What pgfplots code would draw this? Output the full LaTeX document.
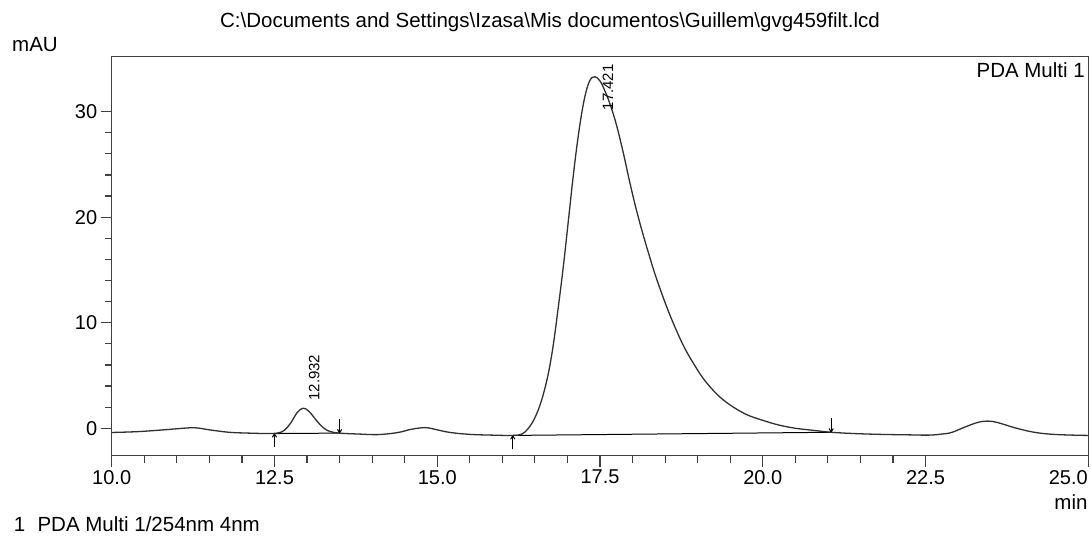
\documentclass[border=0pt]{standalone}
\usepackage{pgfplots}
\pgfplotsset{compat=1.18}
\usepackage{fontspec}
\setmainfont{Liberation Sans}
\usetikzlibrary{arrows.meta}
\definecolor{axisgray}{HTML}{404040}
\definecolor{curvegray}{HTML}{303030}

% chromatogram trace (min, mAU)
\pgfplotstableread{
t y
10.0 -0.40
10.4 -0.32
10.8 -0.15
11.0 -0.05
11.27 0.05
11.5 -0.15
11.8 -0.38
12.1 -0.46
12.4 -0.50
12.55 -0.45
12.65 -0.20
12.75 0.50
12.85 1.50
12.94 1.90
13.03 1.60
13.15 0.70
13.25 0.05
13.35 -0.30
13.5 -0.46
13.8 -0.55
14.1 -0.60
14.4 -0.40
14.6 -0.10
14.82 0.06
15.0 -0.15
15.2 -0.40
15.5 -0.58
15.9 -0.66
16.16 -0.68
16.3 -0.55
16.4 0.00
16.5 1.00
16.6 2.60
16.7 5.00
16.78 7.80
16.86 11.5
16.94 15.5
17.02 20.0
17.1 24.5
17.18 28.3
17.26 31.2
17.34 32.9
17.42 33.3
17.5 32.9
17.58 31.9
17.66 30.6
17.75 28.8
17.85 26.3
17.95 23.5
18.05 20.9
18.15 18.6
18.25 16.5
18.35 14.5
18.5 11.9
18.65 9.6
18.8 7.6
18.95 6.0
19.1 4.6
19.3 3.2
19.5 2.2
19.75 1.3
20.0 0.75
20.25 0.30
20.5 0.00
20.75 -0.18
21.05 -0.38
21.4 -0.50
21.8 -0.58
22.2 -0.62
22.55 -0.65
22.75 -0.55
22.9 -0.40
23.1 0.10
23.3 0.55
23.45 0.68
23.6 0.55
23.87 0.05
24.14 -0.35
24.4 -0.55
24.7 -0.64
25.0 -0.68
}\trace

\begin{document}
\begin{tikzpicture}[x=1pt,y=1pt]
\path[use as bounding box] (-111.7,-80.3) rectangle (980.3,455.7);
\begin{axis}[
  at={(0,0)}, anchor=south west,
  scale only axis, width=976.6pt, height=399pt,
  xmin=10, xmax=25, ymin=-2.6, ymax=35.2,
  xtick={10,12.5,...,22.5}, minor x tick num=4,
  extra x ticks={25},
  extra x tick style={x tick label style={anchor=north east, xshift=3pt}},
  ytick={0,10,20,30}, minor y tick num=4,
  tick pos=left, tick align=outside,
  major tick length=11pt, minor tick length=7pt,
  axis line style={axisgray, line width=1.2pt},
  tick style={axisgray, line width=1.2pt},
  /pgf/number format/assume math mode=true,
  tick label style={font=\fontsize{20}{22}\selectfont},
  x tick label style={/pgf/number format/fixed, /pgf/number format/fixed zerofill, /pgf/number format/precision=1},
  clip=false,
]
\addplot[black, line width=1pt] coordinates {(12.5,-0.50) (13.5,-0.46)};
\addplot[black, line width=1pt] coordinates {(16.16,-0.68) (21.05,-0.38)};
\addplot[curvegray, line width=1.3pt, smooth, tension=0.6] table[x=t, y=y] {\trace};

\draw[black, line width=1pt, -{To[length=4pt,width=5pt]}] (axis cs:12.5,-1.8) -- (axis cs:12.5,-0.5);
\draw[black, line width=1pt, -{To[length=4pt,width=5pt]}] (axis cs:13.5,0.85) -- (axis cs:13.5,-0.46);
\draw[black, line width=1pt, -{To[length=4pt,width=5pt]}] (axis cs:16.16,-2.0) -- (axis cs:16.16,-0.68);
\draw[black, line width=1pt, -{To[length=4pt,width=5pt]}] (axis cs:21.05,0.95) -- (axis cs:21.05,-0.38);

\node[rotate=90, anchor=west, inner sep=0pt, font=\fontsize{15}{17}\selectfont] at (axis cs:13.11,2.6) {12.932};
\node[rotate=90, anchor=west, inner sep=0pt, font=\fontsize{15}{17}\selectfont] at (axis cs:17.62,30.1) {17.421};
\end{axis}

\node[anchor=center, font=\fontsize{20.5}{23}\selectfont] at (438.3,433.7) {C:\textbackslash Documents and Settings\textbackslash Izasa\textbackslash Mis documentos\textbackslash Guillem\textbackslash gvg459filt.lcd};
\node[anchor=west, inner sep=0pt, font=\fontsize{20.5}{23}\selectfont] at (-99.7,410.7) {mAU};
\node[anchor=east, inner sep=0pt, font=\fontsize{20.5}{23}\selectfont] at (973.3,385.7) {PDA Multi 1};
\node[anchor=east, inner sep=0pt, font=\fontsize{20.5}{23}\selectfont] at (976,-46) {min};
\node[anchor=west, inner sep=0pt, font=\fontsize{20.5}{23}\selectfont] at (-98,-68.3) {1\hspace{0.6em}PDA Multi 1/254nm 4nm};
\end{tikzpicture}
\end{document}
